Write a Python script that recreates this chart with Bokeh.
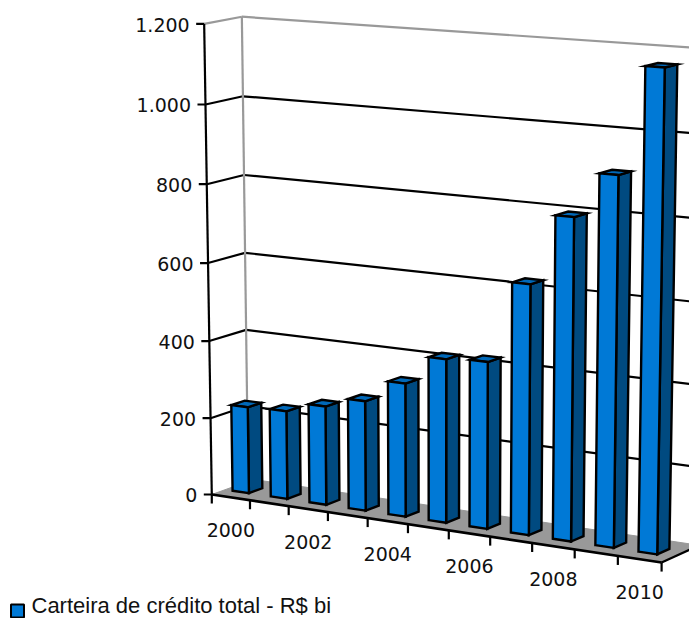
import numpy as np
from bokeh.core.properties import value
from bokeh.embed import file_html
from bokeh.models import Range1d
from bokeh.plotting import figure
from bokeh.resources import INLINE

# Chart data
years = [2000, 2001, 2002, 2003, 2004, 2005, 2006, 2007, 2008, 2009, 2010]
carteira = [225, 228, 254, 281, 339, 413, 419, 622, 795, 905, 1165]
y_ticks = [0, 200, 400, 600, 800, 1000, 1200]
y_tick_labels = ["0", "200", "400", "600", "800", "1.000", "1.200"]
series_name = "Carteira de crédito total - R$ bi"

# Perspective camera: (category, value, depth) -> page pixels, solved from box corners
W, H = 689, 618
NX, VMAX = len(years), y_ticks[-1]
anchors = [
    ((0, 0, 0), (212, 494)), ((NX, 0, 0), (660, 563)),
    ((0, 0, 1), (247, 481)), ((NX, 0, 1), (695, 546)),
    ((0, VMAX, 0), (204, 22.5)), ((0, VMAX, 1), (241, 17)),
    ((NX, VMAX, 1), (703, 48)),
]


def solve_camera(pairs):
    rows, rhs = [], []
    for (x, v, z), (u, w) in pairs:
        X = [x, v / VMAX, z, 1]
        rows.append(X + [0, 0, 0, 0] + [-u * c for c in X[:3]])
        rhs.append(u)
        rows.append([0, 0, 0, 0] + X + [-w * c for c in X[:3]])
        rhs.append(w)
    sol = np.linalg.lstsq(np.array(rows, float), np.array(rhs, float), rcond=None)[0]
    return np.append(sol, 1).reshape(3, 4)


CAM = solve_camera(anchors)


def proj(x, v, z):
    h = CAM @ np.array([x, v / VMAX, z, 1.0])
    return h[0] / h[2], h[1] / h[2]


def poly(*corners):
    pts = [proj(*c) for c in corners]
    return [p[0] for p in pts], [p[1] for p in pts]


def seg(p, a, b, **kw):
    ax, ay = proj(*a)
    bx, by = proj(*b)
    p.line([ax, bx], [ay, by], **kw)


p = figure(width=W, height=H, x_range=Range1d(0, W), y_range=Range1d(H, 0),
           output_backend="svg", toolbar_location=None, min_border=0,
           outline_line_color=None, background_fill_color="white", border_fill_color="white")
p.axis.visible = False
p.grid.visible = False

GRAY = "#999999"
FRONT, TOP, SIDE = "#0079d6", "#0068b8", "#004a80"

# Floor, reaching slightly behind the back wall's foot
FLOOR_Z = 1.15
fx, fy = poly((0, 0, 0), (NX, 0, 0), (NX, 0, FLOOR_Z), (0, 0, FLOOR_Z))
p.patch(fx, fy, fill_color=GRAY, line_color=GRAY, line_width=1)

# Walls: grey frame, black gridlines
for t in y_ticks[1:]:
    colour = GRAY if t == VMAX else "black"
    seg(p, (0, t, 0), (0, t, 1), line_color=colour, line_width=2.2)
    seg(p, (0, t, 1), (NX, t, 1), line_color=colour, line_width=2.2)
seg(p, (0, 0, 1), (0, VMAX, 1), line_color=GRAY, line_width=2.2)

# Bars
BAR_L, BAR_R, Z0, Z1 = 0.19, 0.62, 0.37, 0.74
for i, v in enumerate(carteira):
    l, r = i + BAR_L, i + BAR_R
    for corners, fill in (
        (((r, 0, Z0), (r, 0, Z1), (r, v, Z1), (r, v, Z0)), SIDE),
        (((l, v, Z0), (r, v, Z0), (r, v, Z1), (l, v, Z1)), TOP),
        (((l, 0, Z0), (r, 0, Z0), (r, v, Z0), (l, v, Z0)), FRONT),
    ):
        xs, ys = poly(*corners)
        p.patch(xs, ys, fill_color=fill, line_color="black", line_width=2.4, line_join="miter")

# Axes and tick marks
seg(p, (0, 0, 0), (0, VMAX, 0), line_color="black", line_width=2.2)
seg(p, (0, 0, 0), (NX, 0, 0), line_color="black", line_width=2.6)
seg(p, (NX, 0, 0), (NX, 0, 1), line_color="black", line_width=2.2)
for t, lab in zip(y_ticks, y_tick_labels):
    x0, y0 = proj(0, t, 0)
    p.line([x0 - 8, x0], [y0, y0], line_color="black", line_width=2.2)
    p.text([x0 - 14.5], [y0 + 1], text=[lab], text_align="right", text_baseline="middle",
           text_font=value("DejaVu Sans"), text_font_size="19px", text_color="#111111")
for i in range(NX + 1):
    x0, y0 = proj(i, 0, 0)
    p.line([x0, x0], [y0, y0 + 9], line_color="black", line_width=2.2)
for i, year in enumerate(years):
    if i % 2 == 0:
        x0, y0 = proj(i + 0.5, 0, 0)
        p.text([x0], [y0 + 33], text=[str(year)], text_align="center", text_baseline="middle",
               text_font=value("DejaVu Sans"), text_font_size="19px", text_color="#111111")

# Legend
p.rect([17], [610.5], width=13, height=13, fill_color=FRONT, line_color="black", line_width=2)
p.text([31], [605], text=[series_name], text_align="left", text_baseline="middle",
       text_font=value("Liberation Sans"), text_font_size="22px", text_color="#111111")

open("out.html", "w").write(file_html(p, INLINE))
